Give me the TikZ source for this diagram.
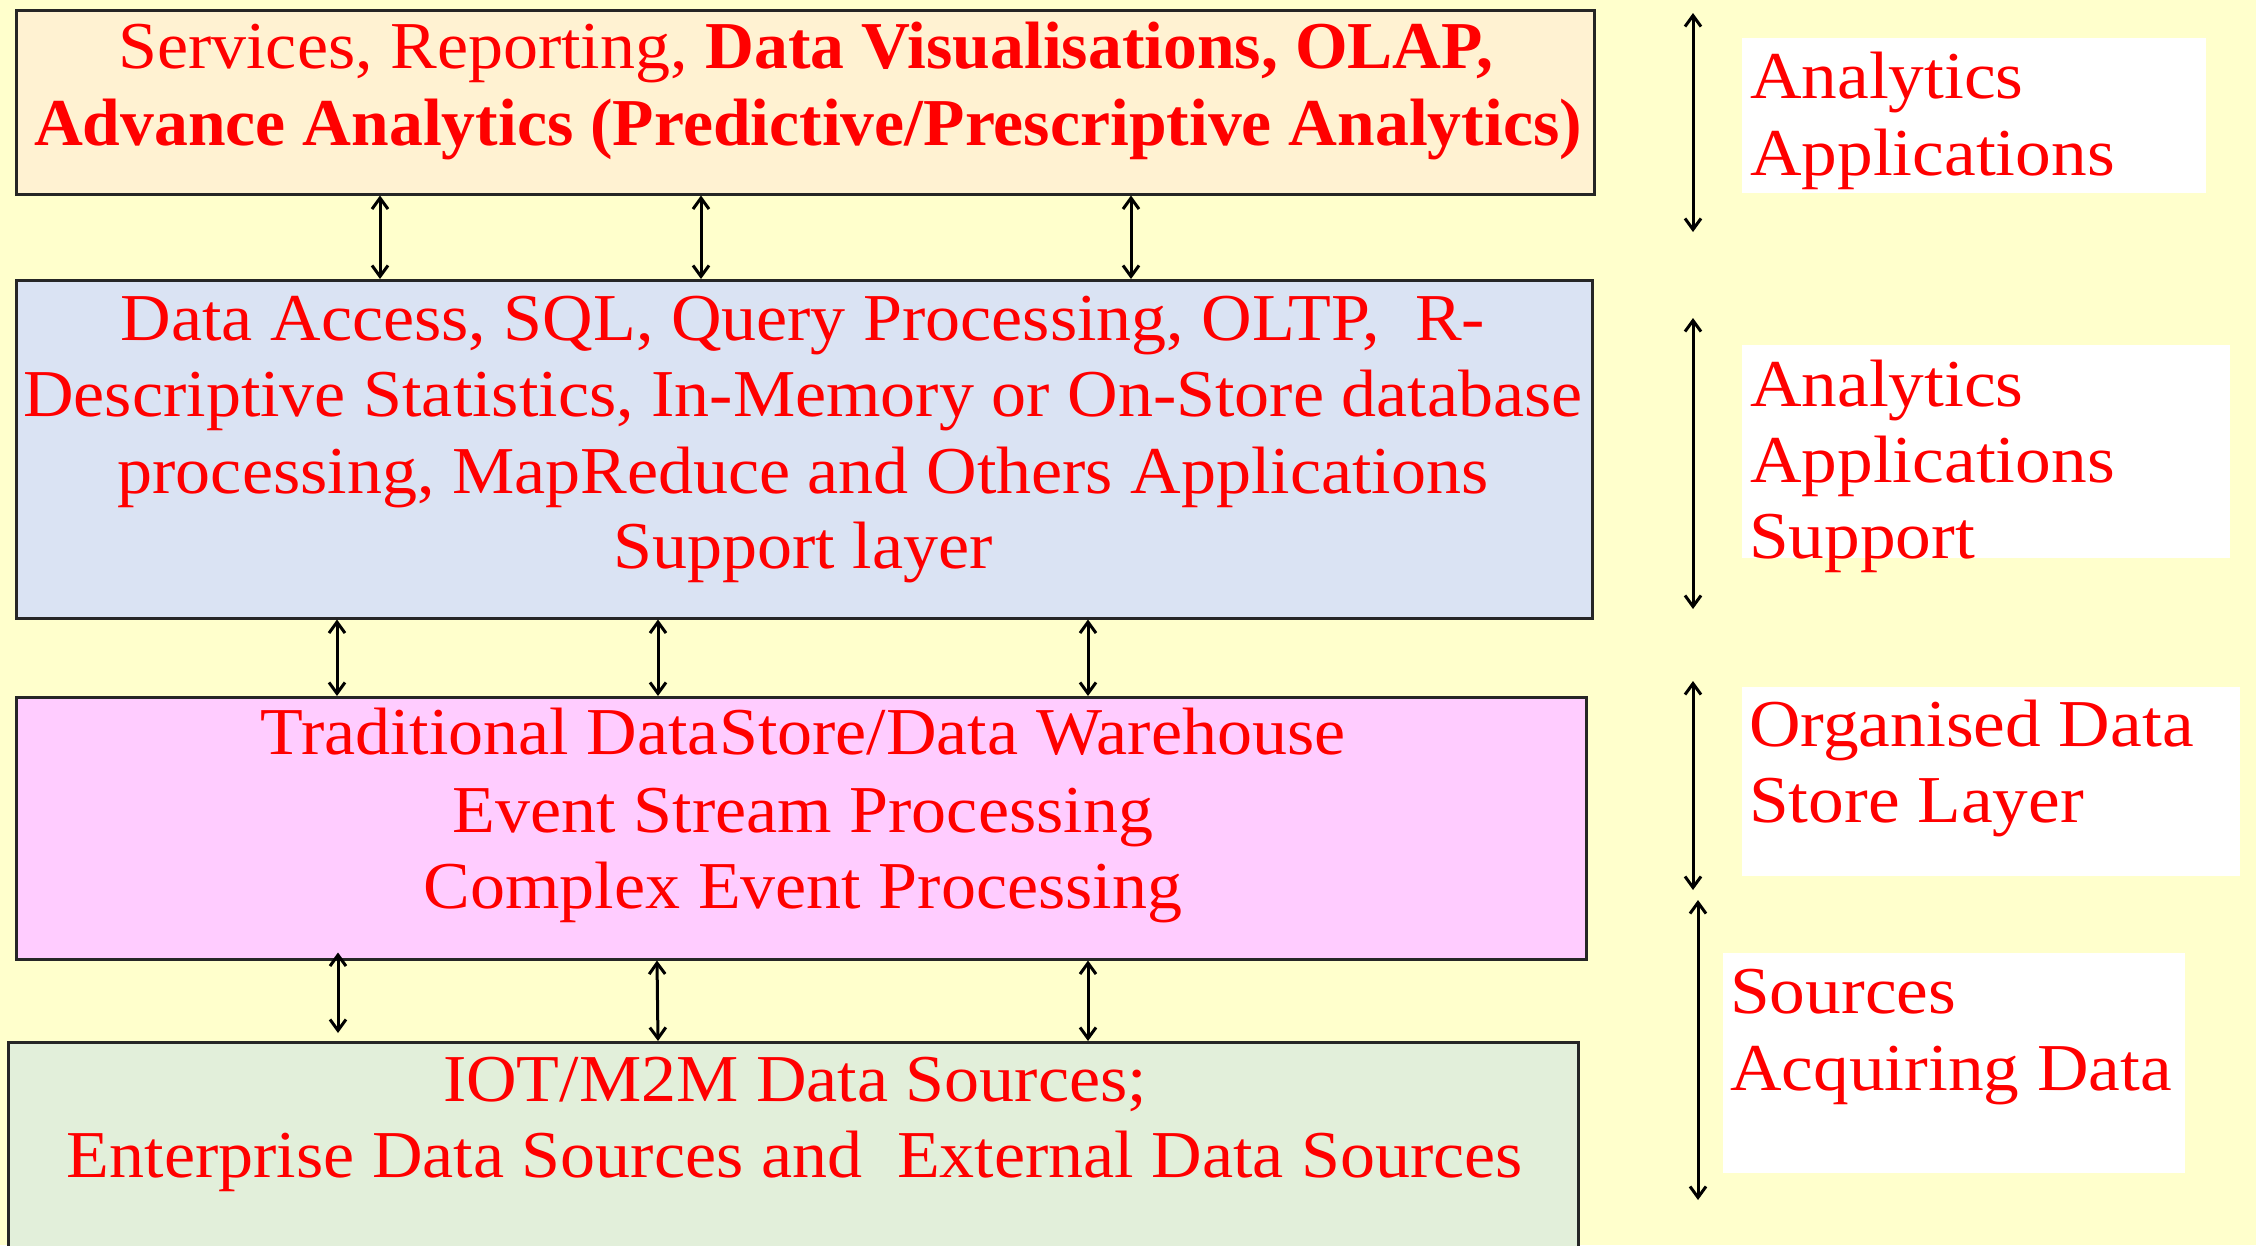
\documentclass[tikz,border=0pt]{standalone}
\usepackage{fontspec}
\setmainfont{Liberation Serif}[FakeStretch=1.045]
\newfontfamily\boldfam{Liberation Serif}[FakeStretch=1.01]
\newfontfamily\labfam{Liberation Serif}[FakeStretch=1.065]
\usetikzlibrary{arrows.meta,calc}
\definecolor{bgyellow}{HTML}{FFFFCC}
\definecolor{fillA}{HTML}{FFF2D2}
\definecolor{fillB}{HTML}{DAE3F3}
\definecolor{fillC}{HTML}{FFCCFF}
\definecolor{fillD}{HTML}{E2EFDA}
\definecolor{txtred}{HTML}{FF0000}
\newcommand{\bdtext}[1]{{\boldfam\bfseries #1}}
\begin{document}
\begin{tikzpicture}[x=1pt,y=-1pt,
  layerbox/.style={draw=black!85, line width=2.5pt, anchor=north west, inner sep=0pt},
  ltxt/.style={anchor=base, text=txtred, inner sep=0pt, font=\fontsize{67}{76}\selectfont},
  rtxt/.style={anchor=base west, text=txtred, inner sep=0pt, font=\labfam\fontsize{67}{76}\selectfont},
  labbox/.style={fill=white, draw=none, anchor=north west, inner sep=0pt},
  dbl/.style={line width=3pt, {Straight Barb[length=11pt,width=16pt]}-{Straight Barb[length=11pt,width=16pt]}}
]
\clip (0,0) rectangle (2256,1245);
\fill[bgyellow] (0,0) rectangle (2256,1245);

% layer boxes
\node[layerbox, fill=fillA, minimum width=1578pt, minimum height=184pt] (b1) at (15,9) {};
\node[layerbox, fill=fillB, minimum width=1576pt, minimum height=338pt] (b2) at (15,279) {};
\node[layerbox, fill=fillC, minimum width=1570pt, minimum height=262pt] (b3) at (15,696) {};
\node[layerbox, fill=fillD, minimum width=1570pt, minimum height=240pt] (b4) at (7,1041) {};

% texts in layer boxes
\node[ltxt] (t1a) at (806,68) {Services, Reporting, \bdtext{Data Visualisations, OLAP,}};
\node[ltxt] (t1b) at (808,145) {\bdtext{Advance Analytics (Predictive/Prescriptive Analytics)}};
\node[ltxt] (t2a) at (803,340) {Data Access, SQL, Query Processing, OLTP,\ \ R-};
\node[ltxt] (t2b) at (803,416) {Descriptive Statistics, In-Memory or On-Store database};
\node[ltxt] (t2c) at (803,493) {processing, MapReduce and Others Applications};
\node[ltxt] (t2d) at (803,568) {Support layer};
\node[ltxt] (t3a) at (803,754) {Traditional DataStore/Data Warehouse};
\node[ltxt] (t3b) at (803,832) {Event Stream Processing};
\node[ltxt] (t3c) at (803,908) {Complex Event Processing};
\node[ltxt] (t4a) at (795,1101) {IOT/M2M Data Sources;};
\node[ltxt] (t4b) at (795,1177) {Enterprise Data Sources and\ \ External Data Sources};

% arrows between layers
\foreach \dx in {365,686,1116}{
  \draw[dbl] ($(b1.south west)+(\dx,0)$) -- ($(b2.north west)+(\dx,0)$);
}
\foreach \dx in {322,643,1073}{
  \draw[dbl] ($(b2.south west)+(\dx,0)$) -- ($(b3.north west)+(\dx,0)$);
}
\draw[dbl] ($(b3.south west)+(323,-8)$) -- ($(b4.north west)+(331,-8)$);
\draw[dbl] ($(b3.south west)+(642,0)$) -- ($(b4.north west)+(651,0)$);
\draw[dbl] ($(b3.south west)+(1073,0)$) -- ($(b4.north west)+(1081,0)$);

% right-hand labels
\node[labbox, minimum width=464pt, minimum height=155pt] (l1) at (1742,38) {};
\node[labbox, minimum width=488pt, minimum height=213pt] (l2) at (1742,345) {};
\node[labbox, minimum width=498pt, minimum height=189pt] (l3) at (1742,687) {};
\node[labbox, minimum width=462pt, minimum height=220pt] (l4) at (1723,953) {};

\node[rtxt] (r1a) at (1750,98) {Analytics};
\node[rtxt] (r1b) at (1750,175) {Applications};
\node[rtxt] (r2a) at (1750,406) {Analytics};
\node[rtxt] (r2b) at (1750,482) {Applications};
\node[rtxt] (r2c) at (1749,558) {Support};
\node[rtxt] (r3a) at (1749,746) {Organised Data};
\node[rtxt] (r3b) at (1749,822) {Store Layer};
\node[rtxt] (r4a) at (1730,1013) {Sources};
\node[rtxt] (r4b) at (1730,1090) {Acquiring Data};

% right-hand span arrows
\coordinate (a1t) at (1693,13);  \coordinate (a1b) at (1693,232);
\coordinate (a2t) at (1693,318); \coordinate (a2b) at (1693,609);
\coordinate (a3t) at (1693,681); \coordinate (a3b) at (1693,890);
\coordinate (a4t) at (1698,900); \coordinate (a4b) at (1698,1200);
\draw[dbl] (a1t) -- (a1b);
\draw[dbl] (a2t) -- (a2b);
\draw[dbl] (a3t) -- (a3b);
\draw[dbl] (a4t) -- (a4b);
\end{tikzpicture}
\end{document}
